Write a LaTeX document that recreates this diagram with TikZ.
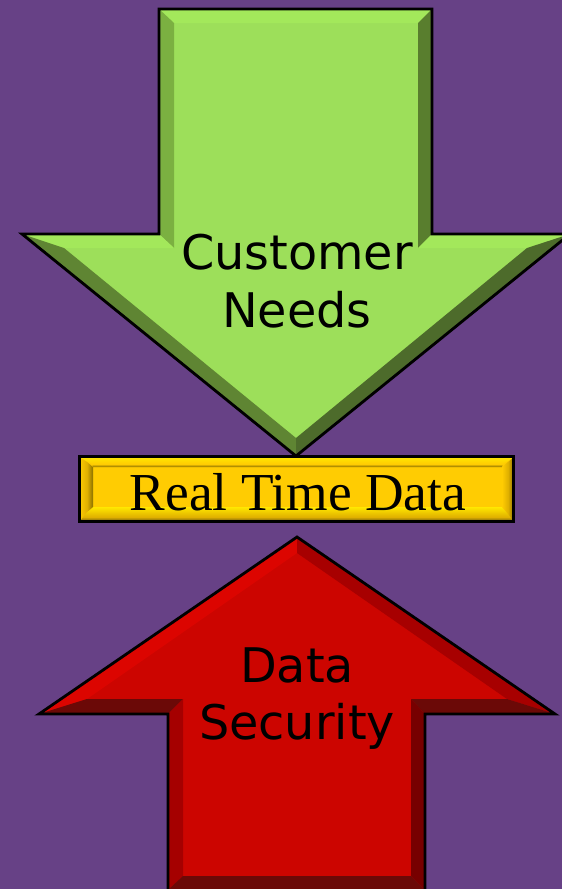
\documentclass[tikz,border=0pt]{standalone}
\usepackage{fontspec}
\setmainfont{Liberation Serif}
\newfontfamily\labelsans{DejaVu Sans}
\tikzset{
  arrowoutline/.style={draw=black,line width=2.8pt,line join=miter,miter limit=20},
  sanslabel/.style={font=\labelsans\fontsize{47.7}{57.5}\selectfont,align=center,text=black,inner sep=0pt},
  seriflabel/.style={font=\fontsize{53.4}{56}\selectfont,text=black,inner sep=0pt},
}
\definecolor{bg}{HTML}{674186}
\definecolor{gmain}{HTML}{9DDF5A}
\definecolor{gtop}{HTML}{A3E85B}
\definecolor{gleft}{HTML}{7BB041}
\definecolor{gright}{HTML}{597E2E}
\definecolor{gdl}{HTML}{5F8533}
\definecolor{gdr}{HTML}{4D6B2B}
\definecolor{rmain}{HTML}{CC0500}
\definecolor{rleftd}{HTML}{DC0500}
\definecolor{rrightd}{HTML}{A70000}
\definecolor{rbot}{HTML}{6B0907}
\definecolor{rleft}{HTML}{A50000}
\definecolor{rright}{HTML}{770000}
\definecolor{ymain}{HTML}{FFCC02}
\definecolor{ybright}{HTML}{FFE800}
\definecolor{ydark}{HTML}{8A7000}
\definecolor{ymid}{HTML}{E0B000}
\definecolor{yolive}{HTML}{5A4E18}
\begin{document}
\begin{tikzpicture}[x=1pt,y=-1pt]
\useasboundingbox (0,0) rectangle (562,889);
\clip (0,0) rectangle (562,889);
\fill[bg] (0,0) rectangle (562,889);
% green arrow
\fill[gmain] (159,9)--(432,9)--(432,234)--(570,234)--(296,456)--(22,234)--(159,234)--cycle;
\fill[gtop] (159,9)--(432,9)--(418,23)--(174,23)--cycle;
\fill[gleft] (159,9)--(174,23)--(174,248)--(159,234)--cycle;
\fill[gright] (432,9)--(418,23)--(418,248)--(432,234)--cycle;
\fill[gtop] (22,234)--(159,234)--(174,248)--(64,248)--cycle;
\fill[gtop] (570,234)--(432,234)--(418,248)--(527,248)--cycle;
\fill[gdl] (22,234)--(64,248)--(296,438)--(296,456)--cycle;
\fill[gdr] (570,234)--(527,248)--(296,438)--(296,456)--cycle;
\draw[arrowoutline] (159,9)--(432,9)--(432,234)--(570,234)--(296,456)--(22,234)--(159,234)--cycle;
\node[sanslabel] (needs) at (297,281) {Customer\\Needs};
% yellow box
\fill[ymain] (79,456) rectangle (514,522);
\shade[top color=ybright,bottom color=ymain] (79,457)--(514,457)--(503,464)--(92,464)--cycle;
\shade[top color=ymain,bottom color=ydark] (92,464)--(503,464)--(502,467)--(93,467)--cycle;
\shade[top color=ybright,middle color=ymain,bottom color=ymid] (93,507)--(502,507)--(511,517)--(82,517)--cycle;
\shade[top color=ymid,bottom color=yolive] (82,517)--(511,517)--(514,522)--(79,522)--cycle;
\shade[left color=ymain,right color=ymid] (79,457)--(87,462)--(87,512)--(79,522)--cycle;
\shade[left color=ymid,right color=ydark] (87,462)--(93,467)--(93,507)--(87,512)--cycle;
\shade[left color=ymain,right color=ymid] (502,467)--(508,462)--(508,514)--(502,507)--cycle;
\shade[left color=ymid,right color=ydark] (508,462)--(514,457)--(514,522)--(508,514)--cycle;
\node[draw=black,line width=2.8pt,minimum width=433.5pt,minimum height=64.5pt,inner sep=0pt] (box) at (296.5,489) {};
\node[seriflabel] (rtd) at (298,492) {Real Time Data};
% red arrow
\fill[rmain] (297,537)--(555,714)--(425,714)--(425,895)--(168,895)--(168,714)--(39,714)--cycle;
\fill[rleftd] (297,537)--(39,714)--(87,699)--(297,553)--cycle;
\fill[rrightd] (297,537)--(555,714)--(507,699)--(297,553)--cycle;
\fill[rbot] (39,714)--(168,714)--(183,699)--(87,699)--cycle;
\fill[rbot] (555,714)--(425,714)--(411,699)--(507,699)--cycle;
\fill[rleft] (168,714)--(183,699)--(183,876)--(168,890)--cycle;
\fill[rright] (425,714)--(411,699)--(411,876)--(425,890)--cycle;
\fill[rbot] (183,876)--(411,876)--(425,890)--(168,890)--cycle;
\draw[arrowoutline] (297,537)--(555,714)--(425,714)--(425,895)--(168,895)--(168,714)--(39,714)--cycle;
\node[sanslabel] (sec) at (297,698.5) {Data\\Security};
\end{tikzpicture}
\end{document}
